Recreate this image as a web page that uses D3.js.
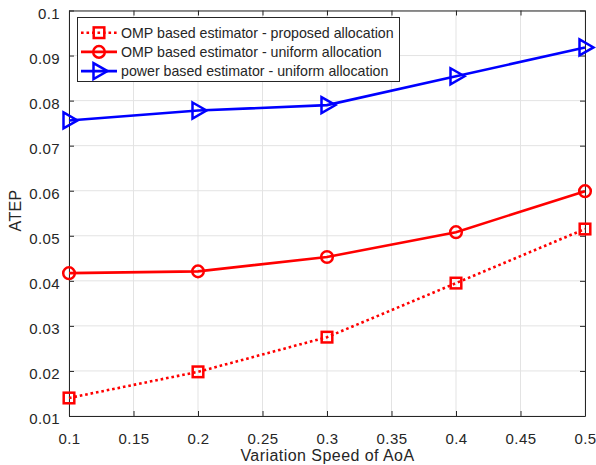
<!DOCTYPE html>
<html><head><meta charset="utf-8">
<script src="https://cdn.jsdelivr.net/npm/d3@7"></script>
<style>body{margin:0;background:#fff}svg{display:block}text{font-family:"Liberation Sans",Arial,sans-serif}</style>
</head><body><svg id="c" width="596" height="465"></svg>
<script>
const speeds = [0.1, 0.2, 0.3, 0.4, 0.5];
const ompProposed = [0.0140, 0.0198, 0.0275, 0.0395, 0.0515];
const ompUniform = [0.0417, 0.0421, 0.0453, 0.0508, 0.0599];
const powerUniform = [0.0756, 0.0778, 0.0790, 0.0854, 0.0918];
const xTicks = [0.1, 0.15, 0.2, 0.25, 0.3, 0.35, 0.4, 0.45, 0.5];
const yTicks = [0.01, 0.02, 0.03, 0.04, 0.05, 0.06, 0.07, 0.08, 0.09, 0.1];
const seriesNames = ["OMP based estimator - proposed allocation", "OMP based estimator - uniform allocation", "power based estimator - uniform allocation"];

const svg = d3.select("#c");
const L = 69, R = 585, T = 10.5, B = 416;
const x = d3.scaleLinear().domain([0.1, 0.5]).range([L, R]);
const y = d3.scaleLinear().domain([0.01, 0.1]).range([B, T]);
const axisCol = "#262626";

// grid
const g = svg.append("g");
g.selectAll(".gx").data(xTicks).enter().append("line")
  .attr("x1", d => x(d)).attr("x2", d => x(d)).attr("y1", T).attr("y2", B)
  .attr("stroke", "#e3e3e3").attr("stroke-width", 1);
g.selectAll(".gy").data(yTicks).enter().append("line")
  .attr("y1", d => y(d)).attr("y2", d => y(d)).attr("x1", L).attr("x2", R)
  .attr("stroke", "#e3e3e3").attr("stroke-width", 1);

// axes
const fmt = d => String(+d.toFixed(2));
const ax = (gen, tr) => {
  const a = svg.append("g").attr("transform", tr).call(gen);
  a.select(".domain").attr("stroke", axisCol);
  a.selectAll(".tick line").attr("stroke", axisCol);
  a.selectAll("text").attr("fill", axisCol).style("font-size", "15px").style("letter-spacing", "0.4px");
  return a;
};
ax(d3.axisBottom(x).tickValues(xTicks).tickFormat(fmt).tickSizeInner(-5).tickSizeOuter(0).tickPadding(17), `translate(0,${B})`);
ax(d3.axisTop(x).tickValues(xTicks).tickFormat("").tickSizeInner(-5).tickSizeOuter(0), `translate(0,${T})`);
const ya = ax(d3.axisLeft(y).tickValues(yTicks).tickFormat(fmt).tickSizeInner(-5).tickSizeOuter(0).tickPadding(9), `translate(${L},0)`);
ya.selectAll("text").attr("dy", "0.5em");
ax(d3.axisRight(y).tickValues(yTicks).tickFormat("").tickSizeInner(-5).tickSizeOuter(0), `translate(${R},0)`);

svg.append("text").attr("x", 327.5).attr("y", 460.5).attr("text-anchor", "middle")
  .attr("fill", axisCol).style("font-size", "16px").style("letter-spacing", "0.45px").text("Variation Speed of AoA");
svg.append("text").attr("transform", `translate(21,210.5) rotate(-90)`).attr("text-anchor", "middle")
  .attr("fill", axisCol).style("font-size", "16px").style("letter-spacing", "0.3px").text("ATEP");

const line = d3.line().x((d, i) => x(speeds[i])).y(d => y(d));
function marker(sel, type, color) {
  if (type === "square") sel.append("rect").attr("x", -5.3).attr("y", -5.3).attr("width", 10.6).attr("height", 10.6)
    .attr("fill", "none").attr("stroke", color).attr("stroke-width", 2.5);
  else if (type === "circle") sel.append("circle").attr("r", 5.8).attr("fill", "none").attr("stroke", color).attr("stroke-width", 2.5);
  else sel.append("path").attr("d", "M-5.5,-8L8.5,0L-5.5,8Z").attr("fill", "none").attr("stroke", color).attr("stroke-width", 2.5);
}
const series = [
  {vals: ompProposed, color: "#ff0000", dash: "2.6,2.9", m: "square"},
  {vals: ompUniform, color: "#ff0000", dash: null, m: "circle"},
  {vals: powerUniform, color: "#0000ff", dash: null, m: "tri"}
];
series.forEach(s => {
  svg.append("path").attr("d", line(s.vals)).attr("fill", "none").attr("stroke", s.color)
    .attr("stroke-width", 2.6).attr("stroke-dasharray", s.dash);
  s.vals.forEach((v, i) => {
    const mg = svg.append("g").attr("transform", `translate(${x(speeds[i])},${y(v)})`);
    marker(mg, s.m, s.color);
  });
});

// legend
const lg = svg.append("g");
lg.append("rect").attr("x", 77.5).attr("y", 17.5).attr("width", 322).attr("height", 64)
  .attr("fill", "#fff").attr("stroke", axisCol).attr("stroke-width", 1);
series.forEach((s, i) => {
  const yy = 32.7 + i * 19.2;
  lg.append("line").attr("x1", 81).attr("x2", 117).attr("y1", yy).attr("y2", yy)
    .attr("stroke", s.color).attr("stroke-width", 2.6).attr("stroke-dasharray", s.dash);
  marker(lg.append("g").attr("transform", `translate(99,${yy})`), s.m, s.color);
  lg.append("text").attr("x", 121).attr("y", yy + 5).attr("fill", axisCol).style("font-size", "14.2px").text(seriesNames[i]);
});
</script></body></html>
